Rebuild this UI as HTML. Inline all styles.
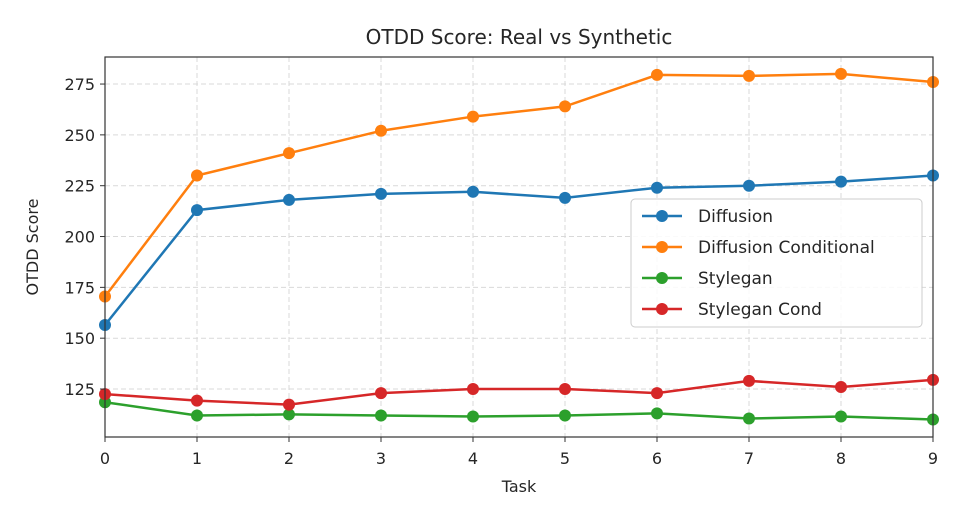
<!DOCTYPE html>
<html><head><meta charset="utf-8"><style>
html,body{margin:0;padding:0;background:#fff;}
svg text{font-family:"DejaVu Sans","Liberation Sans",sans-serif;fill:#262626;}
</style></head><body>
<svg id="chart" width="963" height="525" xmlns="http://www.w3.org/2000/svg">
<rect width="963" height="525" fill="#fff"/>
<g id="grid"></g>
<g id="series"></g>
<g id="axes"></g>
<text x="519" y="44" font-size="20" text-anchor="middle">OTDD Score: Real vs Synthetic</text>
<text x="519" y="492" font-size="16" text-anchor="middle">Task</text>
<text transform="translate(38,247) rotate(-90)" font-size="16" text-anchor="middle">OTDD Score</text>
<g id="legend"></g>
</svg>
<script>
const tasks=[0,1,2,3,4,5,6,7,8,9];
const seriesNames=["Diffusion","Diffusion Conditional","Stylegan","Stylegan Cond"];
const diffusion=[156.5,213,218,221,222,219,224,225,227,230];
const diffusionCond=[170.5,230,241,252,259,264,279.5,279,280,276];
const stylegan=[118.5,112,112.5,112,111.5,112,113,110.5,111.5,110];
const styleganCond=[122.5,119.3,117.3,123,125,125,123,129,126,129.5];
const yTicks=[125,150,175,200,225,250,275];
const colors=["#1f77b4","#ff7f0e","#2ca02c","#d62728"];
const L=105,R=933,T=57,B=437,xMin=0,xMax=9,yMin=101.4,yMax=288.3;
const X=v=>L+(v-xMin)/(xMax-xMin)*(R-L);
const Y=v=>B-(v-yMin)/(yMax-yMin)*(B-T);
const NS="http://www.w3.org/2000/svg";
function mk(tag,attrs,parent){const e=document.createElementNS(NS,tag);for(const k in attrs)e.setAttribute(k,attrs[k]);parent.appendChild(e);return e;}
const grid=document.getElementById('grid'),axes=document.getElementById('axes'),ser=document.getElementById('series'),leg=document.getElementById('legend');
tasks.forEach(t=>{
 const g=mk('line',{x1:X(t),x2:X(t),y1:T,y2:B,stroke:'#d9d9d9','stroke-dasharray':'5,3','stroke-width':1},grid);
 
 
 mk('line',{x1:X(t),x2:X(t),y1:B,y2:B+5,stroke:'#333'},axes);
 const tx=mk('text',{x:X(t),y:B+27,'font-size':16,'text-anchor':'middle'},axes);tx.textContent=t;
 
 
});
yTicks.forEach(v=>{
 const g=mk('line',{x1:L,x2:R,y1:Y(v),y2:Y(v),stroke:'#d9d9d9','stroke-dasharray':'5,3','stroke-width':1},grid);
 
 
 mk('line',{x1:L-5,x2:L,y1:Y(v),y2:Y(v),stroke:'#333'},axes);
 const tx=mk('text',{x:L-10,y:Y(v)+6,'font-size':16,'text-anchor':'end'},axes);tx.textContent=v;
 
 
});
const frame=mk('rect',{x:L,y:T,width:R-L,height:B-T,fill:'none',stroke:'#333','stroke-width':1.2},axes);


const all=[diffusion,diffusionCond,stylegan,styleganCond];
all.forEach((d,i)=>{
 const pts=d.map((v,j)=>X(tasks[j])+','+Y(v)).join(' ');
 const pl=mk('polyline',{points:pts,fill:'none',stroke:colors[i],'stroke-width':2.5},ser);
 
 
 d.forEach((v,j)=>{
  const c=mk('circle',{cx:X(tasks[j]),cy:Y(v),r:6,fill:colors[i]},ser);
  
  
 });
});
const box=mk('rect',{x:631,y:199,width:291,height:128,rx:4,fill:'#fff','fill-opacity':0.85,stroke:'#ccc'},leg);


seriesNames.forEach((n,i)=>{
 const y=216+i*31;
 const g=mk('g',{},leg);
 
 
 mk('line',{x1:642,x2:682,y1:y,y2:y,stroke:colors[i],'stroke-width':2.5},g);
 mk('circle',{cx:662,cy:y,r:6,fill:colors[i]},g);
 const t=mk('text',{x:698,y:y+6,'font-size':17},g);t.textContent=n;
});
</script>
</body></html>
